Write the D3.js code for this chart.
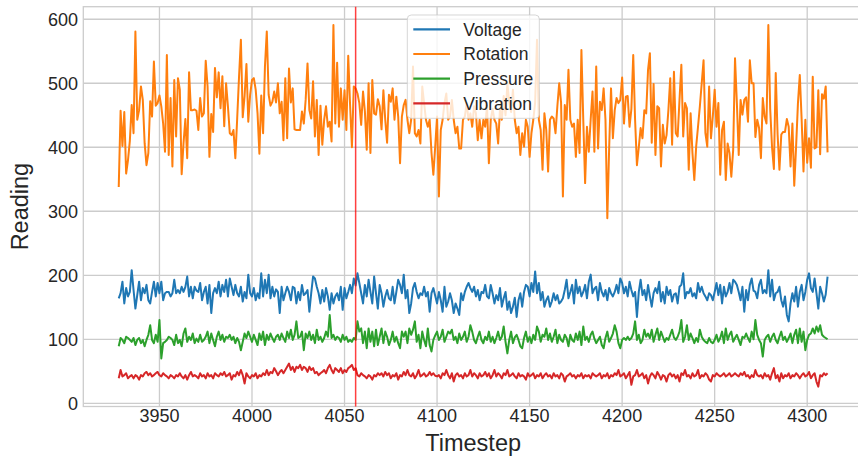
<!DOCTYPE html>
<html>
<head>
<meta charset="utf-8">
<script src="https://cdn.jsdelivr.net/npm/d3@7"></script>
<style>
  body { margin: 0; background: #fff; }
  text { font-family: "Liberation Sans", Arial, sans-serif; fill: #262626; }
</style>
</head>
<body>
<svg id="chart"></svg>
<script>
// first timestep of every series, one reading per step
var startStep = 3928;
var markerStep = 4056;

var voltage = [164,172,190,156,180,167,174,208,177,148,169,190,161,180,172,185,161,156,174,190,167,188,172,190,161,172,174,174,167,172,193,172,177,172,182,174,182,198,167,182,164,182,176,174,188,161,174,182,156,185,141,
  172,180,172,190,167,185,174,193,167,195,182,169,185,172,167,182,159,174,164,201,172,167,180,161,172,164,203,167,193,172,201,164,182,167,178,174,141,182,161,172,182,
  174,161,182,180,156,174,161,185,169,172,177,143,172,198,195,182,172,156,177,159,180,167,146,172,156,167,172,161,182,146,180,164,174,185,172,195,184,203,188,172,156,
  185,167,193,174,156,198,172,148,185,172,151,167,177,164,161,182,156,174,193,185,172,201,164,177,141,156,180,188,174,164,172,169,182,167,174,143,172,180,168,156,174,
  161,143,182,151,159,172,161,141,156,148,138,172,161,174,182,188,180,174,182,167,177,161,174,172,185,167,164,185,172,156,169,161,180,151,164,174,146,159,141,151,165,
  135,161,172,151,174,185,182,167,188,174,206,172,188,161,174,151,161,167,151,159,172,161,169,156,159,164,177,193,164,174,185,156,193,172,182,167,174,185,164,190,
  201,172,179,182,161,188,174,167,177,161,180,172,167,174,185,172,195,188,172,182,167,190,177,167,174,135,174,193,169,177,161,185,167,151,172,180,172,190,159,174,156,
  182,169,177,159,170,172,156,182,185,203,164,174,172,180,167,172,164,188,174,182,172,167,161,172,169,161,174,188,169,185,156,182,167,174,188,172,193,190,185,174,161,
  182,143,177,161,185,195,176,174,164,185,193,172,177,172,208,167,193,161,172,174,182,161,151,167,138,128,156,172,159,182,151,174,185,161,174,193,203,180,174,195,172,
  148,182,172,159,170,198];

var rotation = [338,457,402,455,359,380,410,466,422,581,443,458,495,474,406,372,391,472,448,534,465,469,481,464,437,393,544,388,477,370,505,417,508,490,358,406,444,383,517,458,458,459,457,427,477,448,453,535,495,385,
  452,424,524,478,517,461,511,433,500,464,422,419,427,383,445,510,568,447,480,530,440,482,505,508,490,453,390,481,422,526,581,482,465,471,487,470,500,453,471,411,508,414,523,470,492,428,427,427,
  427,456,437,474,531,458,445,503,417,474,388,465,404,443,464,432,440,409,591,437,532,432,492,443,489,427,543,466,400,495,492,484,469,435,487,456,396,500,391,505,453,451,475,464,428,489,443,407,482,
  471,492,443,479,448,375,448,466,474,443,422,443,526,422,417,427,406,495,469,443,432,443,391,357,401,448,323,427,443,469,484,443,448,474,443,422,432,398,398,443,448,469,443,453,432,464,453,411,
  443,414,443,432,465,375,443,460,443,437,406,460,443,480,450,500,470,455,490,443,422,432,388,422,401,443,432,385,422,443,470,568,443,427,365,453,427,362,443,448,445,422,464,
  500,470,323,466,443,521,443,432,437,385,443,391,552,443,344,432,393,443,487,393,526,398,471,458,492,443,289,400,492,414,458,477,469,474,509,437,479,480,432,460,544,443,372,400,430,414,458,453,521,547,407,499,388,464,
  461,370,435,406,419,458,508,404,518,422,417,474,529,417,469,461,365,453,391,349,401,432,464,500,536,422,401,495,414,448,490,432,469,357,427,440,349,406,391,354,396,539,469,388,474,451,474,478,
  440,536,500,500,416,443,430,383,477,448,437,591,460,400,366,516,420,365,420,424,424,444,432,370,437,340,401,469,513,443,362,443,376,414,368,510,398,400,489,389,483,476,495,392];

var pressure = [89,102,99,94,104,102,99,96,102,91,99,102,94,99,89,99,107,122,99,94,107,96,130,70,94,96,99,104,102,99,91,107,94,99,89,109,117,96,104,99,109,94,101,96,107,96,99,104,112,94,109,
  99,89,104,112,99,107,96,104,102,107,99,104,94,102,96,83,96,109,102,112,104,96,107,99,91,109,99,112,91,107,99,109,102,96,104,107,99,109,102,96,112,
  102,115,99,107,128,102,104,112,83,109,102,112,99,107,94,115,99,104,96,102,112,104,138,102,107,99,104,102,96,107,99,104,96,99,96,102,99,128,112,117,94,
  112,86,117,96,112,89,115,91,104,117,94,112,104,91,99,112,96,104,94,86,112,104,112,94,117,107,115,128,96,107,86,112,99,89,117,91,81,99,106,112,99,
  104,115,96,104,112,109,115,99,104,94,109,99,104,112,96,104,122,112,99,94,104,112,99,94,104,99,112,96,104,94,102,112,99,104,120,96,78,99,112,94,103,
  107,99,89,86,102,112,96,104,94,107,99,120,112,96,107,104,117,99,109,96,104,115,94,107,99,96,107,102,89,107,99,96,109,99,112,91,120,99,104,96,
  107,112,101,94,99,104,91,86,102,112,96,102,109,122,112,94,86,99,102,99,104,99,102,109,128,99,107,94,99,115,104,109,102,115,96,107,117,99,112,104,96,
  102,99,107,115,103,99,104,112,130,96,104,122,99,109,102,94,102,96,115,104,99,96,94,102,96,94,99,107,96,102,112,94,117,99,107,112,96,102,107,99,91,
  104,102,109,102,96,112,100,130,107,99,94,73,99,104,107,96,104,109,99,94,104,112,99,104,96,102,109,94,107,115,94,117,96,112,83,99,107,109,117,109,120,
  112,122,107,104,102,100];

var vibration = [39,52,42,44,47,39,42,44,39,44,42,37,44,42,47,49,44,47,42,44,47,49,44,42,47,44,42,39,44,42,39,44,42,47,42,39,44,37,44,49,42,44,42,39,47,42,44,39,47,42,44,
  39,47,44,42,47,44,49,42,44,47,37,44,42,49,44,52,44,31,47,42,39,44,42,47,39,44,42,47,44,52,44,49,47,55,50,44,49,52,47,52,57,
  62,52,57,49,57,55,60,52,57,55,49,57,52,55,47,49,44,47,49,52,47,55,60,52,47,55,52,49,55,47,52,49,55,57,60,52,55,44,42,47,44,
  42,39,44,42,37,44,42,47,44,47,42,49,44,47,39,44,42,47,37,44,42,49,44,52,44,42,47,39,44,52,42,44,47,42,44,49,44,47,43,42,44,
  39,47,44,52,44,39,47,34,44,47,42,44,39,47,42,44,52,42,47,44,39,47,42,44,49,42,47,39,44,52,42,47,44,39,47,44,52,42,44,47,42,
  39,47,42,44,42,37,47,42,44,47,39,44,42,47,39,44,47,42,44,39,47,42,44,39,47,44,34,42,44,47,42,44,39,44,42,47,39,44,42,44,
  39,47,44,42,44,47,39,44,42,47,39,44,42,47,44,52,42,44,47,39,44,49,29,42,44,52,42,44,47,39,44,31,42,47,44,39,49,44,37,44,42,
  34,44,47,42,45,39,44,34,47,44,52,42,44,39,47,42,44,52,39,44,42,47,44,37,34,44,42,47,44,42,44,47,42,44,47,42,44,47,44,42,47,
  44,49,42,44,39,44,41,52,44,42,44,39,47,42,44,37,47,55,39,44,34,47,39,44,42,47,39,44,42,47,44,39,44,47,42,44,49,39,44,47,34,
  26,44,42,47,44,47];

var seriesNames = ["Voltage", "Rotation", "Pressure", "Vibration"];
var seriesColors = ["#1f77b4", "#ff7f0e", "#2ca02c", "#d62728"];
var xTicks = [3950, 4000, 4050, 4100, 4150, 4200, 4250, 4300];
var yTicks = [0, 100, 200, 300, 400, 500, 600];

var width = 858;
var height = 457;
var plotLeft = 83.3, plotRight = 863.0, plotTop = 6.7, plotBottom = 406.5;

var svg = d3.select("#chart")
  .attr("width", width)
  .attr("height", height);

var x = d3.scaleLinear().domain([3908.85, 4330.15]).range([plotLeft, plotRight]);
var y = d3.scaleLinear().domain([-5, 619.6]).range([plotBottom, plotTop]);

// grid
var grid = svg.append("g").attr("class", "grid")
  .attr("stroke", "#cccccc")
  .attr("stroke-width", 1.3);

grid.selectAll("line.gx")
  .data(xTicks)
  .enter().append("line")
    .attr("class", "gx")
    .attr("x1", function(d) { return x(d); })
    .attr("x2", function(d) { return x(d); })
    .attr("y1", plotTop)
    .attr("y2", plotBottom);

grid.selectAll("line.gy")
  .data(yTicks)
  .enter().append("line")
    .attr("class", "gy")
    .attr("x1", plotLeft)
    .attr("x2", plotRight)
    .attr("y1", function(d) { return y(d); })
    .attr("y2", function(d) { return y(d); });

// frame
svg.append("rect")
  .attr("x", plotLeft)
  .attr("y", plotTop)
  .attr("width", plotRight - plotLeft)
  .attr("height", plotBottom - plotTop)
  .attr("fill", "none")
  .attr("stroke", "#cccccc")
  .attr("stroke-width", 1.3);

// tick labels
svg.append("g").selectAll("text")
  .data(xTicks)
  .enter().append("text")
    .attr("x", function(d) { return x(d); })
    .attr("y", 422)
    .attr("text-anchor", "middle")
    .style("font-size", "18px")
    .text(function(d) { return d; });

svg.append("g").selectAll("text")
  .data(yTicks)
  .enter().append("text")
    .attr("x", 78)
    .attr("y", function(d) { return y(d) + 6.8; })
    .attr("text-anchor", "end")
    .style("font-size", "18px")
    .text(function(d) { return d; });

svg.append("text")
  .attr("x", (plotLeft + plotRight) / 2)
  .attr("y", 451)
  .attr("text-anchor", "middle")
  .style("font-size", "23.5px")
  .text("Timestep");

svg.append("text")
  .attr("transform", "translate(28," + ((plotTop + plotBottom) / 2) + ") rotate(-90)")
  .attr("text-anchor", "middle")
  .style("font-size", "23.5px")
  .text("Reading");

// series
var allSeries = [voltage, rotation, pressure, vibration];

var line = d3.line()
  .x(function(d, i) { return x(startStep + i); })
  .y(function(d) { return y(d); });

svg.append("g").attr("class", "series")
  .selectAll("path")
  .data(allSeries)
  .enter().append("path")
    .attr("d", function(d) { return line(d); })
    .attr("fill", "none")
    .attr("stroke", function(d, i) { return seriesColors[i]; })
    .attr("stroke-width", 2)
    .attr("stroke-linejoin", "round");

// marker line
svg.append("line")
  .attr("x1", x(markerStep))
  .attr("x2", x(markerStep))
  .attr("y1", plotTop)
  .attr("y2", plotBottom)
  .attr("stroke", "red")
  .attr("stroke-opacity", 0.75)
  .attr("stroke-width", 1.5);

// legend
var legend = svg.append("g").attr("class", "legend");

legend.append("rect")
  .attr("x", 407.3)
  .attr("y", 15)
  .attr("width", 132)
  .attr("height", 103.3)
  .attr("rx", 4)
  .attr("fill", "#ffffff")
  .attr("fill-opacity", 0.8)
  .attr("stroke", "#cccccc")
  .attr("stroke-opacity", 0.8);

var rows = legend.selectAll("g.row")
  .data(seriesNames)
  .enter().append("g")
    .attr("class", "row")
    .attr("transform", function(d, i) { return "translate(0," + (29.3 + i * 24.7) + ")"; });

rows.append("line")
  .attr("x1", 413.3)
  .attr("x2", 450)
  .attr("stroke", function(d, i) { return seriesColors[i]; })
  .attr("stroke-width", 2.2);

rows.append("text")
  .attr("x", 463.3)
  .attr("y", 6.2)
  .style("font-size", "17.5px")
  .text(function(d) { return d; });
</script>
</body>
</html>
